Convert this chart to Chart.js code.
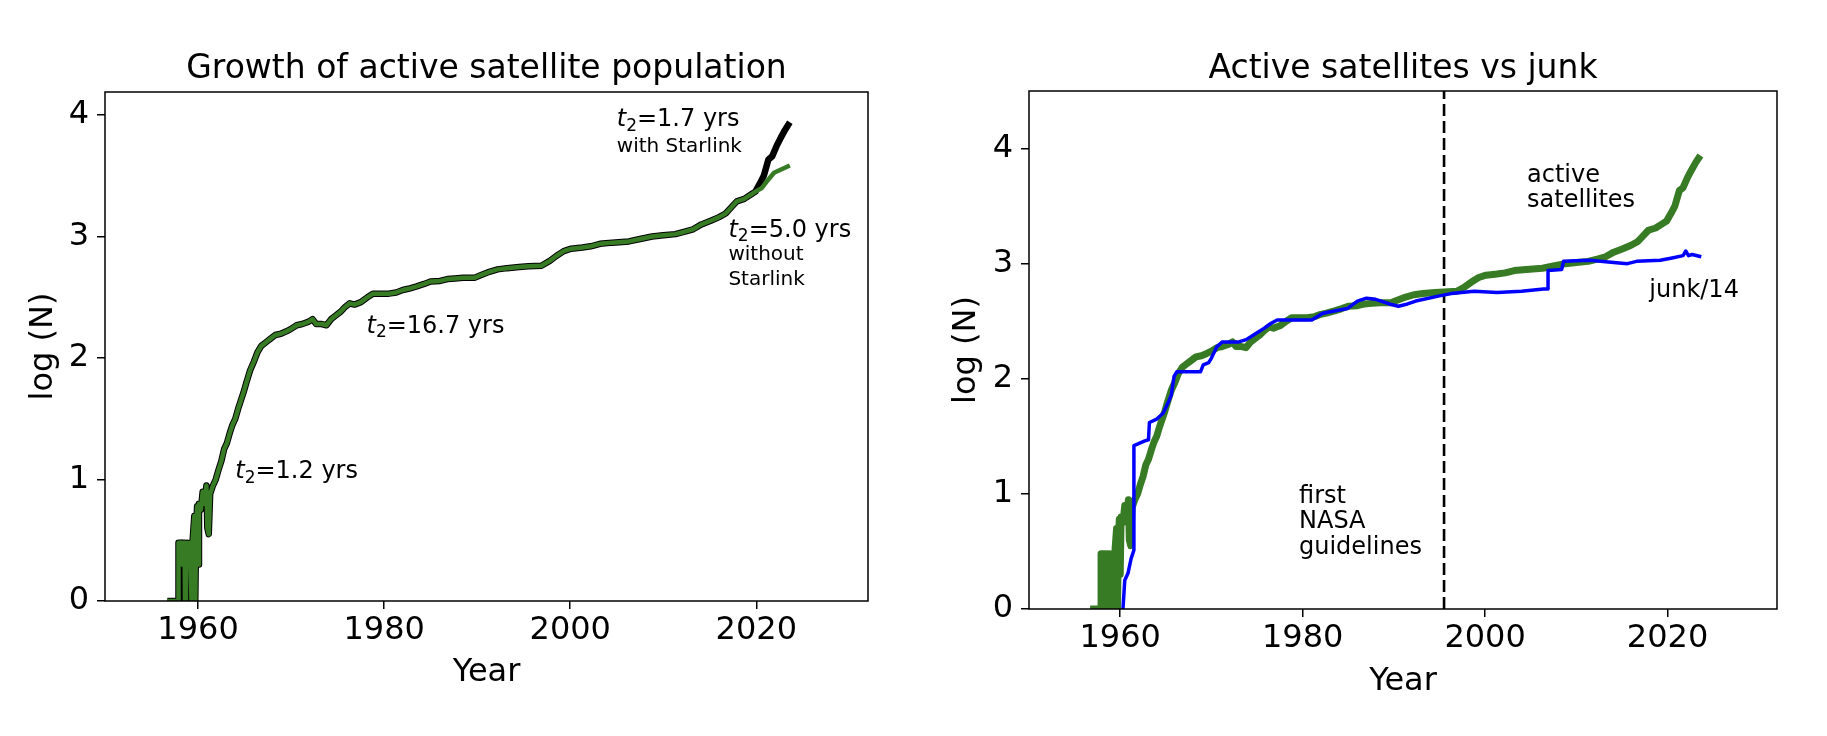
<!DOCTYPE html>
<html>
<head>
<meta charset="utf-8">
<script src="https://cdn.jsdelivr.net/npm/chart.js@4.4.1/dist/chart.umd.min.js"></script>
<style>
  html, body { margin: 0; padding: 0; background: #fff; }
  #wrap { position: relative; width: 1827px; height: 736px; }
  .panel { position: absolute; top: 0; height: 736px; }
  #left { left: 0; width: 914px; }
  #right { left: 914px; width: 913px; }
</style>
</head>
<body>
<div id="wrap">
  <div class="panel" id="left"><canvas id="growthChart"></canvas></div>
  <div class="panel" id="right"><canvas id="junkChart"></canvas></div>
</div>
<script>
// values: year vs log10(N)

// active satellites, with Starlink
const activeYears = [
  1956.7, 1957.9, 1957.9, 1958.2, 1958.25, 1958.4, 1958.55, 1958.6, 1958.7, 1958.8,
  1959.0, 1959.1, 1959.3, 1959.4, 1959.6, 1959.7, 1959.8, 1959.9, 1960.0, 1960.1,
  1960.3, 1960.5, 1960.7, 1960.9, 1961.0, 1961.15, 1961.3, 1961.6, 1961.9, 1962.2,
  1962.5, 1962.8, 1963.1, 1963.4, 1963.7, 1964.0, 1964.3, 1964.6, 1964.9, 1965.2,
  1965.6, 1966.0, 1966.4, 1966.8, 1967.3, 1967.8, 1968.3, 1968.9, 1969.5, 1970.0,
  1970.6, 1971.2, 1971.9, 1972.3, 1972.7, 1973.3, 1973.8, 1974.3, 1974.8, 1975.3,
  1975.8, 1976.3, 1976.8, 1977.5, 1978.2, 1978.8, 1979.5, 1980.5, 1981.3, 1982.0,
  1982.6, 1983.5, 1984.3, 1985.0, 1986.0, 1986.8, 1987.6, 1988.5, 1989.7, 1990.3,
  1991.3, 1992.2, 1993.2, 1994.5, 1995.5, 1996.9, 1997.8, 1998.5, 1999.3, 2000.1,
  2001.3, 2002.2, 2003.2, 2004.5, 2006.3, 2007.5, 2008.8, 2010.0, 2011.3, 2012.3,
  2013.2, 2014.1, 2015.1, 2016.0, 2016.7, 2017.3, 2017.9, 2018.7, 2019.5, 2019.9,
  2020.4, 2020.8, 2021.3, 2021.7, 2022.2, 2022.6, 2023.1, 2023.6
];
const activeLogN = [
  0, 0, 0.48, 0.48, 0.3, 0.48, 0.48, 0, 0.3, 0.48,
  0.3, 0.48, 0, 0.48, 0.7, 0, 0.6, 0.78, 0.3, 0.8,
  0.75, 0.9, 0.8, 0.95, 0.6, 0.55, 0.88, 0.95, 1.0, 1.08,
  1.15, 1.25, 1.3, 1.38, 1.45, 1.5, 1.58, 1.65, 1.72, 1.8,
  1.9, 1.97, 2.05, 2.1, 2.13, 2.16, 2.19, 2.2, 2.22, 2.24,
  2.27, 2.28, 2.3, 2.32, 2.28, 2.28, 2.27, 2.32, 2.35, 2.38,
  2.42, 2.45, 2.44, 2.46, 2.5, 2.53, 2.53, 2.53, 2.54, 2.56,
  2.57, 2.59, 2.61, 2.63, 2.635, 2.65, 2.655, 2.66, 2.66, 2.68,
  2.71, 2.73, 2.74, 2.75, 2.755, 2.76, 2.8, 2.84, 2.88, 2.9,
  2.91, 2.92, 2.94, 2.95, 2.96, 2.98, 3.0, 3.01, 3.02, 3.04,
  3.06, 3.1, 3.13, 3.16, 3.19, 3.24, 3.29, 3.31, 3.35, 3.37,
  3.44, 3.5, 3.635, 3.66, 3.75, 3.81, 3.88, 3.94
];

// branch after 2020 without Starlink
const noStarlinkYears = [2019.9, 2020.6, 2021.3, 2021.9, 2022.6, 2023.6];
const noStarlinkLogN = [3.37, 3.40, 3.47, 3.525, 3.55, 3.585];

// junk divided by 14
const junkYears = [
  1960.3, 1960.5, 1960.85, 1961.2, 1961.5, 1961.5, 1962.7, 1963.1, 1963.2, 1964.0,
  1964.7, 1965.3, 1965.6, 1965.9, 1966.2, 1968.8, 1969.1, 1969.7, 1970.0, 1970.6,
  1971.2, 1973.0, 1973.8, 1974.4, 1975.0, 1975.8, 1976.5, 1977.2, 1981.0, 1982.2,
  1984.9, 1986.0, 1987.0, 1988.0, 1988.6, 1989.5, 1990.5, 1991.5, 1992.4, 1995.0,
  1996.3, 1998.8, 2001.3, 2004.0, 2006.4, 2006.9, 2006.9, 2008.4, 2008.6, 2011.5,
  2014.1, 2015.6, 2016.6, 2019.2, 2020.5, 2021.7, 2022.0, 2022.3, 2022.7, 2023.7
];
const junkLogN = [
  0, 0.25, 0.31, 0.44, 0.51, 1.42, 1.46, 1.47, 1.62, 1.65,
  1.70, 1.8, 1.86, 2.02, 2.06, 2.06, 2.12, 2.14, 2.18, 2.28,
  2.32, 2.32, 2.34, 2.37, 2.4, 2.44, 2.48, 2.51, 2.51, 2.57,
  2.61, 2.675, 2.70, 2.69, 2.675, 2.65, 2.63, 2.65, 2.675, 2.72,
  2.74, 2.76, 2.75, 2.76, 2.78, 2.78, 2.94, 2.95, 3.02, 3.03,
  3.01, 3.00, 3.02, 3.03, 3.05, 3.07, 3.11, 3.07, 3.08, 3.06
];

const guidelineYear = 1995.5;
const yearTicks = [1960, 1980, 2000, 2020];
const logTicks = [0, 1, 2, 3, 4];

const FONT = '"DejaVu Sans", sans-serif';
const GREEN = "#377b24";

const pts = (xs, ys) => xs.map((x, i) => ({ x: x, y: ys[i] }));

// green in the left panel: shared history, then the no-Starlink branch
const splitYear = noStarlinkYears[0];
const leftGreen = pts(activeYears, activeLogN)
  .filter(p => p.x < splitYear)
  .concat(pts(noStarlinkYears, noStarlinkLogN));

// axes frame
const frame = {
  id: "frame",
  afterDatasetsDraw(chart) {
    const { ctx, chartArea: a } = chart;
    ctx.save();
    ctx.strokeStyle = "#000";
    ctx.lineWidth = 1.5;
    ctx.strokeRect(a.left, a.top, a.right - a.left, a.bottom - a.top);
    ctx.restore();
  }
};

// text labels placed in data coordinates
const notes = {
  id: "notes",
  afterDraw(chart, args, opts) {
    const ctx = chart.ctx;
    const xs = chart.scales.x, ys = chart.scales.y;
    ctx.save();
    ctx.fillStyle = "#000";
    ctx.textAlign = "left";
    ctx.textBaseline = "alphabetic";
    (opts.items || []).forEach(n => {
      const size = n.size || 24;
      let cx = xs.getPixelForValue(n.x);
      const cy = ys.getPixelForValue(n.y);
      if (n.t2) {
        ctx.font = "italic " + size + "px " + FONT;
        ctx.fillText("t", cx, cy);
        cx += ctx.measureText("t").width;
        ctx.font = Math.round(size * 0.7) + "px " + FONT;
        ctx.fillText("2", cx, cy + size * 0.2);
        cx += ctx.measureText("2").width;
        ctx.font = size + "px " + FONT;
        ctx.fillText(n.t2, cx, cy);
      } else {
        ctx.font = size + "px " + FONT;
        ctx.fillText(n.text, cx, cy);
      }
    });
    ctx.restore();
  }
};

const leftNotes = [
  { x: 1964, y: 1.01, t2: "=1.2 yrs" },
  { x: 1978.1, y: 2.21, t2: "=16.7 yrs" },
  { x: 2005, y: 3.91, t2: "=1.7 yrs" },
  { x: 2005, y: 3.70, text: "with Starlink", size: 20 },
  { x: 2017, y: 3.00, t2: "=5.0 yrs" },
  { x: 2017, y: 2.81, text: "without", size: 20 },
  { x: 2017, y: 2.60, text: "Starlink", size: 20 }
];
const rightNotes = [
  { x: 2004.6, y: 3.71, text: "active" },
  { x: 2004.6, y: 3.49, text: "satellites" },
  { x: 2018.0, y: 2.71, text: "junk/14" },
  { x: 1979.6, y: 0.92, text: "first" },
  { x: 1979.6, y: 0.70, text: "NASA" },
  { x: 1979.6, y: 0.48, text: "guidelines" }
];

function axes(yMax, yWidth, yTitlePad, xHeight, xTitlePad) {
  const tickFont = { family: FONT, size: 32 };
  const grid = { drawOnChartArea: false, drawTicks: true, tickLength: 8, color: "#000", lineWidth: 1.5 };
  return {
    x: {
      type: "linear", min: 1950, max: 2032,
      afterBuildTicks: s => { s.ticks = yearTicks.map(v => ({ value: v })); },
      afterFit: s => { s.height = xHeight; },
      grid: grid, border: { display: false },
      ticks: { font: tickFont, color: "#000", padding: 2, maxRotation: 0, callback: v => String(v) },
      title: { display: true, text: "Year", font: tickFont, color: "#000", padding: { top: 0, bottom: xTitlePad } }
    },
    y: {
      type: "linear", min: 0, max: yMax,
      afterBuildTicks: s => { s.ticks = logTicks.map(v => ({ value: v })); },
      afterFit: s => { s.width = yWidth; },
      grid: grid, border: { display: false },
      ticks: { font: tickFont, color: "#000", padding: 8, callback: v => String(v) },
      title: { display: true, text: "log (N)", font: tickFont, color: "#000", padding: { top: yTitlePad, bottom: 0 } }
    }
  };
}

const common = {
  responsive: true,
  maintainAspectRatio: false,
  animation: false,
  events: [],
  elements: { point: { radius: 0 }, line: { tension: 0, borderJoinStyle: "round" } }
};

new Chart(document.getElementById("growthChart"), {
  type: "line",
  data: {
    datasets: [
      { data: leftGreen, borderColor: GREEN, borderWidth: 4.5 },
      { data: pts(activeYears, activeLogN), borderColor: "#000", borderWidth: 6.5 }
    ]
  },
  options: Object.assign({}, common, {
    layout: { padding: { left: 10, right: 46, top: 50, bottom: 20 } },
    scales: axes(4.19, 95, 14.8, 115, 23.8),
    plugins: {
      legend: { display: false },
      tooltip: { enabled: false },
      title: {
        display: true, fullSize: false, text: "Growth of active satellite population",
        font: { family: FONT, size: 33, weight: "normal" }, color: "#000",
        padding: { top: 0, bottom: 2.4 }
      },
      notes: { items: leftNotes }
    }
  }),
  plugins: [frame, notes]
});

new Chart(document.getElementById("junkChart"), {
  type: "line",
  data: {
    datasets: [
      { data: pts(junkYears, junkLogN), borderColor: "#0000ff", borderWidth: 3.5 },
      { data: pts(activeYears, activeLogN), borderColor: GREEN, borderWidth: 7 },
      { data: [{ x: guidelineYear, y: 0 }, { x: guidelineYear, y: 4.5 }],
        borderColor: "#000", borderWidth: 2.6, borderDash: [12, 5] }
    ]
  },
  options: Object.assign({}, common, {
    layout: { padding: { left: 10, right: 50, top: 50, bottom: 20 } },
    scales: axes(4.5, 105, 23.8, 107, 14.8),
    plugins: {
      legend: { display: false },
      tooltip: { enabled: false },
      title: {
        display: true, fullSize: false, text: "Active satellites vs junk",
        font: { family: FONT, size: 33, weight: "normal" }, color: "#000",
        padding: { top: 0, bottom: 1.4 }
      },
      notes: { items: rightNotes }
    }
  }),
  plugins: [frame, notes]
});
</script>
</body>
</html>
